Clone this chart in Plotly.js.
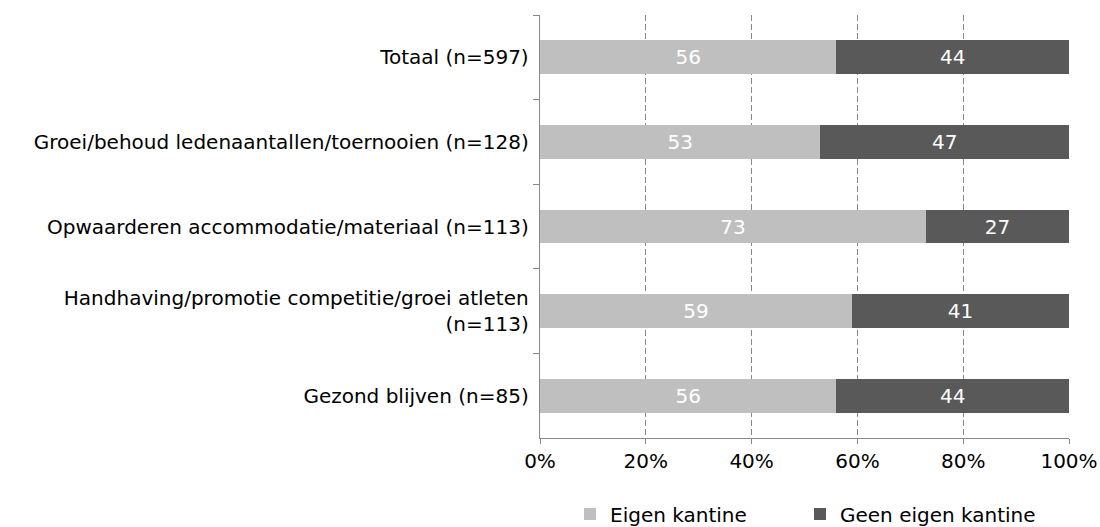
<!DOCTYPE html>
<html>
<head>
<meta charset="utf-8">
<script src="https://cdn.plot.ly/plotly-3.0.1.min.js"></script>
<style>html,body{margin:0;padding:0;background:#fff;}#chart{width:1100px;height:527px;}</style>
</head>
<body>
<div id="chart"></div>
<script>
const categories = [
  "Totaal (n=597)",
  "Groei/behoud ledenaantallen/toernooien (n=128)",
  "Opwaarderen accommodatie/materiaal (n=113)",
  "Handhaving/promotie competitie/groei atleten<br>(n=113)",
  "Gezond blijven (n=85)"
];
const eigenKantine = [56, 53, 73, 59, 56];
const geenEigenKantine = [44, 47, 27, 41, 44];
const seriesNames = ["Eigen kantine", "Geen eigen kantine"];
const xTickVals = [0, 20, 40, 60, 80, 100];
const xTickText = ["0%", "20%", "40%", "60%", "80%", "100%"];

const fam = "DejaVu Sans, Verdana, sans-serif";
const traces = [
  {type: "bar", orientation: "h", name: seriesNames[0], y: categories, x: eigenKantine,
   marker: {color: "#BFBFBF"}, text: eigenKantine.map(String), textposition: "inside",
   insidetextanchor: "middle", textfont: {family: fam, size: 20, color: "#fff"}, hoverinfo: "x+y",
   legend: "legend"},
  {type: "bar", orientation: "h", name: seriesNames[1], y: categories, x: geenEigenKantine,
   marker: {color: "#595959"}, text: geenEigenKantine.map(String), textposition: "inside",
   insidetextanchor: "middle", textfont: {family: fam, size: 20, color: "#fff"}, hoverinfo: "x+y",
   legend: "legend2"}
];
const legendBase = {orientation: "h", xanchor: "left", y: -0.1797, yanchor: "middle",
                    font: {family: fam, size: 20, color: "#000"}, itemwidth: 30,
                    bgcolor: "rgba(0,0,0,0)"};
const layout = {
  width: 1100, height: 527,
  margin: {l: 540, r: 31, t: 15, b: 89, autoexpand: false},
  barmode: "stack", bargap: 0.6,
  font: {family: fam, size: 20, color: "#000"},
  paper_bgcolor: "#fff", plot_bgcolor: "#fff",
  showlegend: true,
  legend: Object.assign({}, legendBase, {x: 0.0567}),
  legend2: Object.assign({}, legendBase, {x: 0.4915}),
  xaxis: {range: [0, 100], tickvals: xTickVals, ticktext: xTickText,
          showgrid: true, gridcolor: "#888", griddash: "6px,3px", gridwidth: 1,
          showline: true, linecolor: "#888", linewidth: 1.3, ticks: "outside", ticklen: 5,
          tickcolor: "#888", zeroline: false, fixedrange: true, automargin: false,
          tickfont: {family: fam, size: 20, color: "#000"}},
  yaxis: {type: "category", autorange: "reversed", showline: true, linecolor: "#888", linewidth: 1.3,
          ticks: "outside", tickson: "boundaries", ticklen: 6, tickcolor: "#888",
          showgrid: false, fixedrange: true, ticklabelstandoff: 6, automargin: false,
          tickfont: {family: fam, size: 20, color: "#000"}}
};
Plotly.newPlot("chart", traces, layout, {displayModeBar: false, staticPlot: true});
</script>
</body>
</html>
